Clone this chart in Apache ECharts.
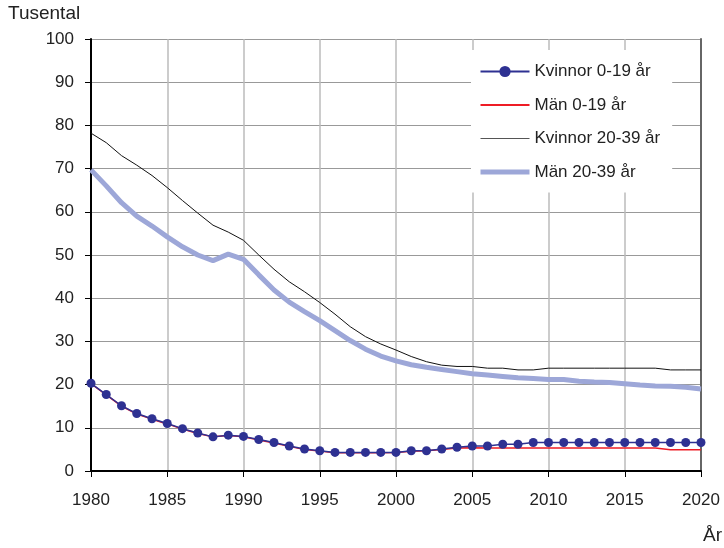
<!DOCTYPE html>
<html>
<head>
<meta charset="utf-8">
<script src="https://cdn.jsdelivr.net/npm/echarts@6/dist/echarts.min.js"></script>
<style>
  html, body { margin: 0; padding: 0; background: #fff; }
  #chart { width: 724px; height: 548px; }
</style>
</head>
<body>
<div id="chart"></div>
<script>
const years = [1980, 1981, 1982, 1983, 1984, 1985, 1986, 1987, 1988, 1989,
  1990, 1991, 1992, 1993, 1994, 1995, 1996, 1997, 1998, 1999,
  2000, 2001, 2002, 2003, 2004, 2005, 2006, 2007, 2008, 2009,
  2010, 2011, 2012, 2013, 2014, 2015, 2016, 2017, 2018, 2019, 2020]

// Tusental per år
const kvinnor0_19 = [20.3, 17.7, 15.1, 13.3, 12.1, 11.0, 9.8, 8.8, 7.9, 8.3,
  8.0, 7.3, 6.6, 5.8, 5.1, 4.7, 4.3, 4.3, 4.3, 4.3,
  4.3, 4.7, 4.7, 5.1, 5.5, 5.8, 5.8, 6.2, 6.2, 6.6,
  6.6, 6.6, 6.6, 6.6, 6.6, 6.6, 6.6, 6.6, 6.6, 6.6, 6.6]
const man0_19 = [20.2, 17.6, 15.0, 13.2, 12.0, 10.9, 9.7, 8.7, 7.9, 8.2,
  7.9, 7.2, 6.5, 5.7, 5.0, 4.6, 4.2, 4.2, 4.2, 4.2,
  4.3, 4.6, 4.7, 5.0, 5.3, 5.4, 5.3, 5.3, 5.3, 5.3,
  5.3, 5.3, 5.3, 5.3, 5.3, 5.3, 5.3, 5.3, 4.9, 4.9, 4.9]
const kvinnor20_39 = [78.2, 76.0, 73.0, 70.8, 68.4, 65.6, 62.6, 59.7, 56.9, 55.3,
  53.4, 50.0, 46.7, 43.8, 41.5, 39.0, 36.3, 33.4, 31.1, 29.4,
  28.0, 26.5, 25.3, 24.5, 24.2, 24.2, 23.8, 23.8, 23.4, 23.4,
  23.8, 23.8, 23.8, 23.8, 23.8, 23.8, 23.8, 23.8, 23.4, 23.4, 23.4]
const man20_39 = [69.7, 66.0, 62.1, 59.0, 56.7, 54.2, 51.9, 50.0, 48.7, 50.2,
  49.0, 45.4, 41.9, 39.1, 36.9, 34.8, 32.5, 30.2, 28.2, 26.6,
  25.5, 24.6, 24.0, 23.5, 23.0, 22.5, 22.2, 21.9, 21.6, 21.4,
  21.2, 21.2, 20.8, 20.6, 20.5, 20.2, 19.9, 19.7, 19.6, 19.4, 19.0]

const seriesNames = ['Kvinnor 0-19 år', 'Män 0-19 år', 'Kvinnor 20-39 år', 'Män 20-39 år']

const font = "'Liberation Sans', Arial, sans-serif"
const pairs = vals => years.map((y, i) => [y, vals[i]])

const chart = echarts.init(document.getElementById('chart'), null, { renderer: 'canvas' })

chart.setOption({
  animation: false,
  backgroundColor: '#fff',
  textStyle: { fontFamily: font, color: '#222' },
  grid: { left: 91, right: 23, top: 39, bottom: 77 },
  legend: {
    // bara första serien har punkter i förklaringen
    data: [
      { name: seriesNames[0] },
      { name: seriesNames[1], itemStyle: { opacity: 0 } },
      { name: seriesNames[2], itemStyle: { opacity: 0 }, lineStyle: { width: 1, color: '#555' } },
      { name: seriesNames[3], itemStyle: { opacity: 0 }, lineStyle: { width: 5 } }
    ],
    orient: 'vertical',
    left: 471,
    top: 50,
    width: 196,
    padding: [13, 12, 12, 7],
    backgroundColor: '#fff',
    itemWidth: 49,
    itemHeight: 14,
    itemGap: 16.5,
    textStyle: { fontFamily: font, fontSize: 17, color: '#222' }
  },
  xAxis: {
    type: 'value',
    min: 1980,
    max: 2020,
    interval: 5,
    axisLine: { lineStyle: { color: '#000', width: 2 } },
    axisTick: { show: true, length: 6, inside: false, lineStyle: { color: '#000', width: 1 } },
    axisLabel: { margin: 21, fontSize: 17, color: '#222', fontFamily: font, formatter: v => String(v) },
    splitLine: { show: true, lineStyle: { color: '#bbbbbb', width: 1.5 } }
  },
  yAxis: [{
    type: 'value',
    min: 0,
    max: 100,
    interval: 10,
    axisLine: { show: true, lineStyle: { color: '#000', width: 2 } },
    axisTick: { show: true, length: 6, lineStyle: { color: '#000', width: 1 } },
    axisLabel: { margin: 17, fontSize: 17, color: '#222', fontFamily: font },
    splitLine: { show: true, lineStyle: { color: '#999999', width: 1.2 } }
  }, {
    type: 'value',
    position: 'right',
    min: 0,
    max: 100,
    interval: 10,
    axisLine: { show: true, lineStyle: { color: '#666', width: 2 } },
    axisTick: { show: false },
    axisLabel: { show: false },
    splitLine: { show: false }
  }],
  graphic: [
    { type: 'text', left: 8, top: 4, style: { text: 'Tusental', font: '19px ' + font, fill: '#222' } },
    { type: 'text', left: 703, top: 526, style: { text: 'År', font: '19px ' + font, fill: '#222' } }
  ],
  series: [
    {
      name: 'Män 20-39 år',
      type: 'line',
      data: pairs(man20_39),
      symbol: 'none',
      lineStyle: { color: '#9da7d8', width: 5 },
      itemStyle: { color: '#9da7d8' },
      z: 2
    },
    {
      name: 'Kvinnor 20-39 år',
      type: 'line',
      data: pairs(kvinnor20_39),
      symbol: 'none',
      lineStyle: { color: '#111', width: 1 },
      itemStyle: { color: '#111' },
      z: 3
    },
    {
      name: 'Kvinnor 0-19 år',
      type: 'line',
      data: pairs(kvinnor0_19),
      symbol: 'circle',
      symbolSize: 9,
      lineStyle: { color: '#2e3192', width: 1.5 },
      itemStyle: { color: '#2e3192' },
      z: 4
    },
    {
      name: 'Män 0-19 år',
      type: 'line',
      data: pairs(man0_19),
      symbol: 'none',
      lineStyle: { color: '#ee1c25', width: 1.5 },
      itemStyle: { color: '#ee1c25' },
      z: 3
    }
  ]
})
</script>
</body>
</html>
